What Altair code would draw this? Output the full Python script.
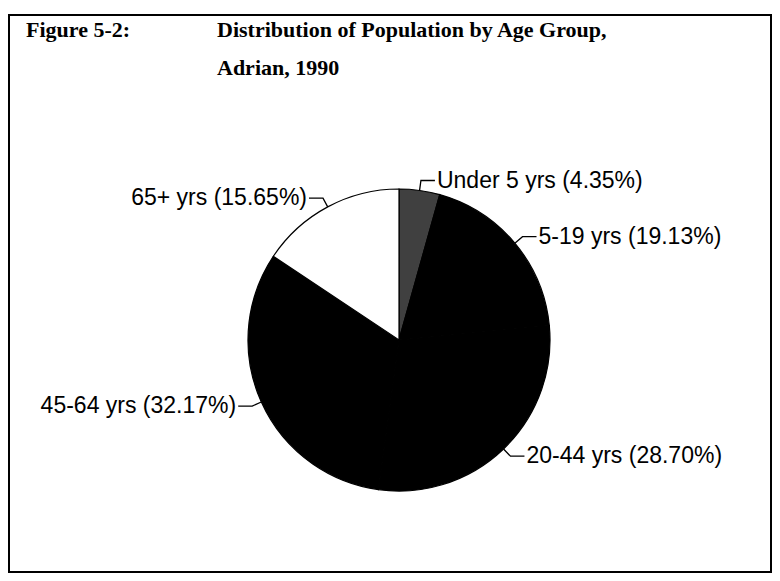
import math
import altair as alt
import pandas as pd

# ---- data ----
groups = ["Under 5 yrs", "5-19 yrs", "20-44 yrs", "45-64 yrs", "65+ yrs"]
shares = [4.35, 19.13, 28.70, 32.17, 15.65]
fills = ["#404040", "#000000", "#000000", "#000000", "#ffffff"]

title_fig = "Figure 5-2:"
title_line1 = "Distribution of Population by Age Group,"
title_line2 = "Adrian, 1990"

# ---- layout ----
W, H = 764, 565
CX, CY, R = 391, 332, 151          # pie centre / radius in px
ELBOW_R = 161 / R                  # leader elbow radius (in pie-radius units)
TAIL = 14 / R                      # horizontal tail length

df = pd.DataFrame({"group": groups, "share": shares, "idx": list(range(len(groups)))})
df["label"] = [f"{g} ({s:.2f}%)" for g, s in zip(groups, shares)]

# leader lines derived from the data (angles from cumulative shares)
rows, lab = [], []
cum = 0.0
for g, s, l in zip(groups, shares, df["label"]):
    a = 2 * math.pi * (cum + s / 2) / 100.0
    cum += s
    sx, cy = math.sin(a), math.cos(a)
    side = 1 if sx >= 0 else -1
    ex, ey = sx * ELBOW_R, cy * ELBOW_R
    tx = ex + side * TAIL
    rows += [
        {"group": g, "step": 0, "ux": sx, "uy": cy},
        {"group": g, "step": 1, "ux": ex, "uy": ey},
        {"group": g, "step": 2, "ux": tx, "uy": ey},
    ]
    lab.append({"group": g, "label": l, "ux": tx, "uy": ey, "side": "right" if side > 0 else "left"})
lines = pd.DataFrame(rows)
labels = pd.DataFrame(lab)

xdom = [-CX / R, (W - CX) / R]
ydom = [(CY - H) / R, CY / R]
xs = alt.Scale(domain=xdom, nice=False, zero=False)
ys = alt.Scale(domain=ydom, nice=False, zero=False)

pie = alt.Chart(df).mark_arc(radius=R, stroke="black", strokeWidth=1.2).encode(
    theta=alt.Theta("share:Q", stack=True),
    order=alt.Order("idx:Q"),
    color=alt.Color("group:N", scale=alt.Scale(domain=groups, range=fills), legend=None),
    x=alt.value(CX),
    y=alt.value(CY),
)

leaders = alt.Chart(lines).mark_line(color="black", strokeWidth=1.3).encode(
    x=alt.X("ux:Q", scale=xs, axis=None),
    y=alt.Y("uy:Q", scale=ys, axis=None),
    detail="group:N",
    order="step:Q",
)

lab_font = dict(font="Liberation Sans", fontSize=23, color="black", baseline="middle")
right_labels = alt.Chart(labels).transform_filter(alt.datum.side == "right").mark_text(
    align="left", dx=2, **lab_font
).encode(x=alt.X("ux:Q", scale=xs, axis=None), y=alt.Y("uy:Q", scale=ys, axis=None), text="label:N")
left_labels = alt.Chart(labels).transform_filter(alt.datum.side == "left").mark_text(
    align="right", dx=-2, **lab_font
).encode(x=alt.X("ux:Q", scale=xs, axis=None), y=alt.Y("uy:Q", scale=ys, axis=None), text="label:N")

tfont = dict(font="Liberation Serif", fontSize=22, fontWeight="bold", color="black",
             align="left", baseline="alphabetic")
t1 = alt.Chart(pd.DataFrame({"t": [title_fig]})).mark_text(**tfont).encode(
    x=alt.value(18), y=alt.value(29), text="t:N")
t2 = alt.Chart(pd.DataFrame({"t": [title_line1]})).mark_text(**tfont).encode(
    x=alt.value(209), y=alt.value(29), text="t:N")
t3 = alt.Chart(pd.DataFrame({"t": [title_line2]})).mark_text(**tfont).encode(
    x=alt.value(209), y=alt.value(67), text="t:N")

border = alt.Chart(pd.DataFrame({"a": [0]})).mark_rect(
    fill="transparent", stroke="black", strokeWidth=2
).encode(x=alt.value(1), x2=alt.value(763), y=alt.value(7), y2=alt.value(564))

chart = alt.layer(border, pie, leaders, right_labels, left_labels, t1, t2, t3).properties(
    width=W, height=H, autosize=alt.AutoSizeParams(type="none"), padding=0,
    background="white",
).configure_view(stroke=None)

chart.save("out.html", embed_options={"renderer": "svg", "actions": False})
